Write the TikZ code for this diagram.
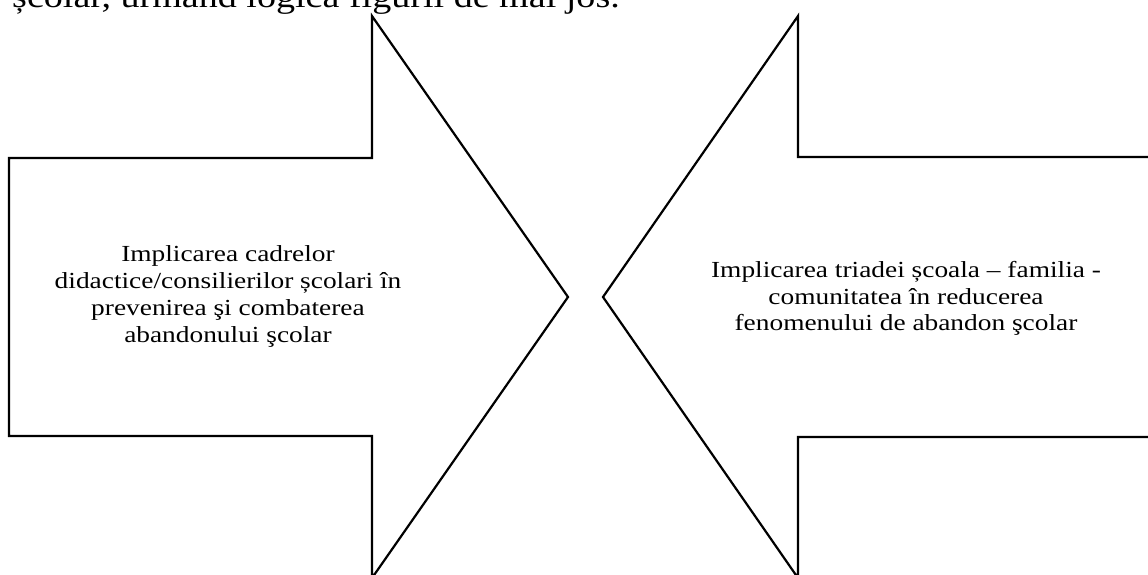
\documentclass[tikz,border=0pt]{standalone}
\usepackage{fontspec}
\setmainfont{Liberation Serif}
% slightly widened serif face for the captions
\newfontfamily\widefont[FakeStretch=1.19]{Liberation Serif}
\begin{document}
\begin{tikzpicture}[x=1pt,y=-1pt,
  arrowshape/.style={draw=black,line width=2.2pt,line join=miter},
  label/.style={align=center,inner sep=0pt,font=\widefont\fontsize{23}{26.8}\selectfont},
  lead/.style={anchor=base west,inner sep=0pt,font=\widefont\fontsize{32}{36}\selectfont}]
  \useasboundingbox[fill=white] (0,0) rectangle (1148,574);

  % lead-in sentence, only its lower part lies on the page
  \node[lead] (intro) at (12,7.5) {școlar, urmând logica figurii de mai jos.};

  % left block arrow pointing right
  \draw[arrowshape] (9,158) -- (372,158) -- (372,16) -- (568,297)
     -- (372,578) -- (372,436) -- (9,436) -- cycle;
  % right block arrow pointing left
  \draw[arrowshape] (603,297) -- (798,16) -- (798,157) -- (1170,157)
     -- (1170,437) -- (798,437) -- (798,578) -- cycle;

  \node[label] (left) at (228,296.5) {Implicarea cadrelor\\
    didactice/consilierilor școlari în\\
    prevenirea şi combaterea\\
    abandonului şcolar};
  \node[label] (right) at (906,298.5) {Implicarea triadei școala – familia -\\
    comunitatea în reducerea\\
    fenomenului de abandon şcolar};
\end{tikzpicture}
\end{document}
